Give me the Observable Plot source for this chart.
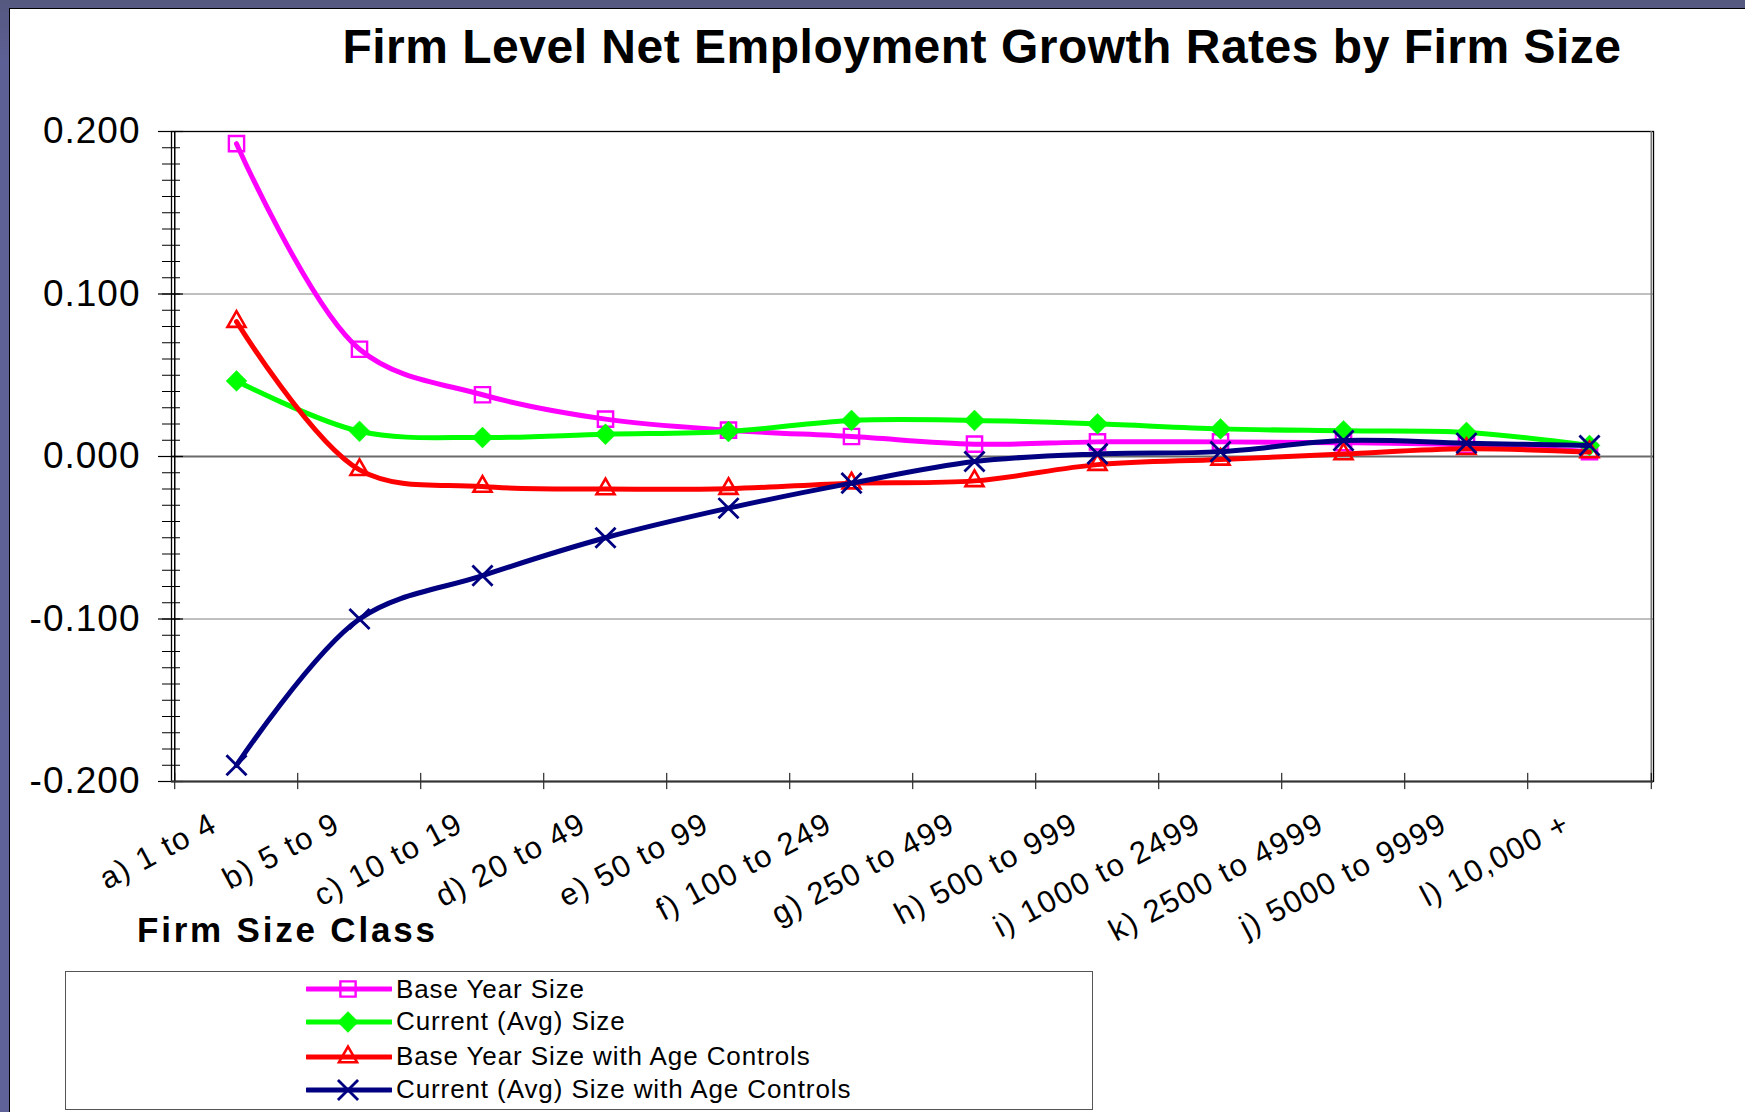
<!DOCTYPE html>
<html>
<head>
<meta charset="utf-8">
<script src="https://cdn.jsdelivr.net/npm/d3@7"></script>
<script src="https://cdn.jsdelivr.net/npm/@observablehq/plot@0.6"></script>
<style>
  html, body { margin: 0; padding: 0; }
  body {
    width: 1745px; height: 1112px; position: relative; overflow: hidden;
    background: linear-gradient(180deg, #55587f 0px, #5d6094 60px, #5f6298 100%);
    font-family: "Liberation Sans", Arial, sans-serif;
  }
  #panel { position: absolute; left: 9px; top: 8px; width: 1740px; height: 1110px; background: #fff; border: 1.5px solid #000; }
  #title { position: absolute; left: 182px; width: 1600px; top: 23px; text-align: center; font-weight: bold; font-size: 48px; line-height: 48px; letter-spacing: 0.5px; color: #000; white-space: nowrap; }
  #chart { position: absolute; left: 0; top: 0; }
  #xlabel { position: absolute; left: 137px; top: 911px; font-weight: bold; font-size: 35px; line-height: 38px; letter-spacing: 2.8px; color: #000; white-space: nowrap; }
  #legend { position: absolute; left: 65px; top: 971px; width: 1026px; height: 137px; border: 1.5px solid #555; background: #fff; }
  .row { position: absolute; left: 240px; height: 32px; display: flex; align-items: center; }
  .row span { font-size: 26px; letter-spacing: 0.9px; color: #000; white-space: nowrap; margin-left: 4px; }
</style>
</head>
<body>
<div id="panel"></div>
<div id="title">Firm Level Net Employment Growth Rates by Firm Size</div>
<div id="chart"></div>
<div id="xlabel">Firm Size Class</div>
<div id="legend"></div>
<script>
// ---- data ----
const categories = ["a) 1 to 4", "b) 5 to 9", "c) 10 to 19", "d) 20 to 49", "e) 50 to 99", "f) 100 to 249",
  "g) 250 to 499", "h) 500 to 999", "i) 1000 to 2499", "k) 2500 to 4999", "j) 5000 to 9999", "l) 10,000 +"];
const baseYearSize        = [0.1925, 0.0660, 0.0380, 0.0230, 0.0162, 0.0123, 0.0076, 0.0090, 0.0090, 0.0085, 0.0070, 0.0030];
const currentAvgSize      = [0.0465, 0.0155, 0.0117, 0.0137, 0.0154, 0.0222, 0.0222, 0.0201, 0.0170, 0.0158, 0.0148, 0.0068];
const baseYearSizeAge     = [0.0830, -0.0082, -0.0185, -0.0200, -0.0198, -0.0164, -0.0150, -0.0050, -0.0018, 0.0015, 0.0047, 0.0027];
const currentAvgSizeAge   = [-0.1900, -0.1000, -0.0733, -0.0500, -0.0318, -0.0164, -0.0031, 0.0016, 0.0030, 0.0098, 0.0082, 0.0068];
const seriesNames  = ["Base Year Size", "Current (Avg) Size", "Base Year Size with Age Controls", "Current (Avg) Size with Age Controls"];
const seriesValues = [baseYearSize, currentAvgSize, baseYearSizeAge, currentAvgSizeAge];
const seriesColors = ["#ff00ff", "#00ff00", "#ff0000", "#000080"];
const seriesSymbols = ["square", "diamond2", "triangle2", "times"];
const yTickValues = [-0.2, -0.1, 0, 0.1, 0.2];
const yMinorTicks = d3.range(-20, 21).map(i => i / 100);

// ---- layout ----
const W = 1745, H = 960;
const mL = 171, mR = 92, mT = 131, mB = H - 781;
const step = (W - mL - mR) / categories.length;

const markStyle = [
  {fill: "none", stroke: seriesColors[0], strokeWidth: 2.4, r: 8.6},
  {fill: seriesColors[1], stroke: seriesColors[1], strokeWidth: 0.5, r: 9.4},
  {fill: "none", stroke: seriesColors[2], strokeWidth: 2.6, r: 8.6},
  {fill: "none", stroke: seriesColors[3], strokeWidth: 2.8, r: 9.2}
];

const seriesMarks = seriesNames.flatMap((name, s) => {
  const rows = categories.map((c, i) => ({category: c, value: seriesValues[s][i], series: name}));
  return [
    Plot.line(rows, {x: "category", y: "value", stroke: seriesColors[s], strokeWidth: 5, curve: "catmull-rom"}),
    Plot.dot(rows, {x: "category", y: "value", symbol: () => seriesSymbols[s], ...markStyle[s]})
  ];
});

const chart = Plot.plot({
  width: W, height: H,
  marginLeft: mL, marginRight: mR, marginTop: mT, marginBottom: mB,
  style: {background: "transparent", fontFamily: "'Liberation Sans', Arial, sans-serif", color: "#000", overflow: "visible"},
  x: {type: "point", domain: categories, padding: 0.5, label: null},
  y: {domain: [-0.2, 0.2], label: null},
  marks: [
    Plot.ruleY([0.1, -0.1], {stroke: "#808080", strokeWidth: 1}),
    Plot.ruleY([0], {stroke: "#6a6a6a", strokeWidth: 2}),
    Plot.axisY(yMinorTicks, {tickSize: 18, dx: 9, fill: "none", stroke: "#000", strokeWidth: 1, label: null}),
    Plot.axisY(yTickValues, {tickSize: 25, dx: 12, fill: "none", stroke: "#000", strokeWidth: 1.2, label: null}),
    Plot.axisY(yTickValues, {tickSize: 0, tickPadding: 31, tickFormat: d => d.toFixed(3), fontSize: 37, fill: "#000", label: null}),
    Plot.axisX(categories, {tickSize: 0, tickRotate: -28, tickPadding: 40, dx: -22, fontSize: 31, fill: "#000", label: null}),
    Plot.frame({stroke: "#000", strokeWidth: 1.3}),
    Plot.ruleX([categories[categories.length - 1]], {dx: step / 2, stroke: "#777", strokeWidth: 1.5}),
    Plot.ruleX([categories[0]], {dx: -step / 2, stroke: "#000", strokeWidth: 1.5}),
    Plot.ruleX(categories, {x: d => d, dx: -step / 2, y1: -0.205, y2: -0.195, stroke: "#000", strokeWidth: 1}),
    Plot.ruleX([categories[categories.length - 1]], {x: d => d, dx: step / 2, y1: -0.205, y2: -0.195, stroke: "#000", strokeWidth: 1}),
    Plot.ruleY([-0.2], {stroke: "#333", strokeWidth: 2}),
    ...seriesMarks
  ]
});
chart.querySelectorAll('[aria-label="y-axis tick label"] text').forEach(t => t.style.letterSpacing = "1px");
chart.querySelectorAll('[aria-label="x-axis tick label"] text').forEach(t => t.style.letterSpacing = "1.5px");
document.getElementById("chart").appendChild(chart);

// ---- legend (HTML below the chart) ----
const legend = document.getElementById("legend");
const rowCenters = [17, 49.5, 84.5, 117.5];
seriesNames.forEach((name, s) => {
  const row = document.createElement("div");
  row.className = "row";
  row.style.top = (rowCenters[s] - 16) + "px";
  const sw = d3.create("svg").attr("width", 86).attr("height", 32);
  sw.append("line").attr("x1", 1).attr("x2", 85).attr("y1", 16).attr("y2", 16)
    .attr("stroke", seriesColors[s]).attr("stroke-width", 5).attr("stroke-linecap", "round");
  const symTypes = [d3.symbolSquare, d3.symbolDiamond2, d3.symbolTriangle2, d3.symbolTimes];
  const st = markStyle[s];
  sw.append("path").attr("transform", "translate(42,16)")
    .attr("d", d3.symbol(symTypes[s], Math.PI * st.r * st.r)())
    .attr("fill", st.fill).attr("stroke", st.stroke).attr("stroke-width", st.strokeWidth);
  row.appendChild(sw.node());
  const label = document.createElement("span");
  label.textContent = name;
  row.appendChild(label);
  legend.appendChild(row);
});
</script>
</body>
</html>
